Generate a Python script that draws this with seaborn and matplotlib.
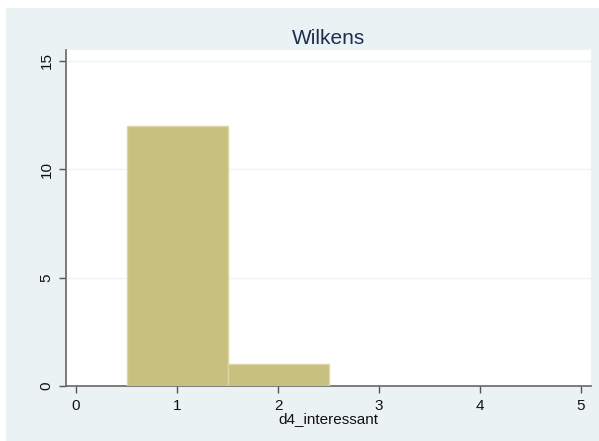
import numpy as np
import pandas as pd
import seaborn as sns
import matplotlib.pyplot as plt
from matplotlib.patches import Rectangle

# datos
valores = [1, 2]
frecuencias = [12, 1]
bordes = [0.5, 1.5, 2.5]
xticks = [0, 1, 2, 3, 4, 5]
yticks = [0, 5, 10, 15]

df = pd.DataFrame({"d4_interessant": valores, "n": frecuencias})

sns.set_style("white")
plt.rcParams['font.family'] = ['Liberation Sans', 'DejaVu Sans']

fondo = "#EAF2F3"
fig = plt.figure(figsize=(5.99, 4.41), dpi=100, facecolor="white")
fig.patches.append(Rectangle((6 / 599, 0), 1, 1 - 8 / 441, transform=fig.transFigure,
                             facecolor=fondo, edgecolor="none", zorder=-10))
ax = fig.add_axes([66 / 599, 1 - 386 / 441, (591 - 66) / 599, (386 - 50) / 441])
ax.set_facecolor("white")

sns.histplot(data=df, x="d4_interessant", weights="n", bins=bordes, ax=ax,
             color="#C8C07E", edgecolor="#DCD6A6", linewidth=1, alpha=1, zorder=3)

ax.set_xlim(-0.1, 5.1)
ax.set_ylim(0, 15.5)
ax.set_xticks(xticks)
ax.set_yticks(yticks)
for y in yticks[1:]:
    ax.axhline(y, color="#EEF4F5", lw=1, zorder=1)

ax.tick_params(axis="both", direction="out", length=5, width=1, color="#555555",
               labelsize=11, labelcolor="#111111", pad=4, left=True, bottom=True)
for lab in ax.get_yticklabels():
    lab.set_rotation(90)
    lab.set_va("center")

for s in ["top", "right"]:
    ax.spines[s].set_visible(False)
for s in ["left", "bottom"]:
    ax.spines[s].set_color("#666666")
    ax.spines[s].set_linewidth(1.2)

ax.set_ylabel("")
ax.set_xlabel("d4_interessant", fontsize=11, color="#111111", labelpad=0)
ax.set_title("Wilkens", fontsize=15, color="#1E2D53", pad=4)

fig.savefig("out.png", dpi=100, facecolor=fig.get_facecolor())
